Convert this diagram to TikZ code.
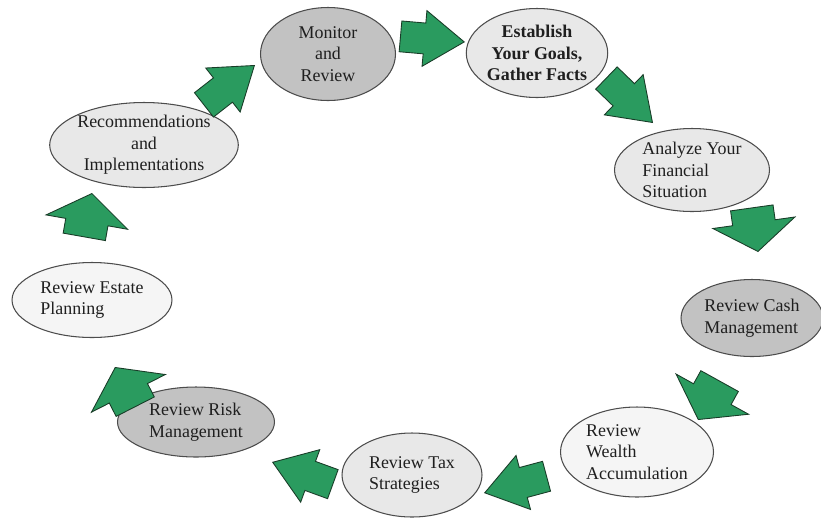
\documentclass[tikz,border=0pt]{standalone}
\usepackage{fontspec}
\setmainfont{Liberation Serif}
\usetikzlibrary{
	positioning
	,shapes.geometric
	,shapes.arrows
}
\definecolor{flowgreen}{RGB}{42,155,95}
\definecolor{flowedge}{RGB}{25,60,40}
\tikzset{
	step node/.style={
		draw=black!70,
		ellipse,
		line width=.6pt,
		inner sep=0pt,
		align=center,
		text=black!88,
		font=\fontsize{10.2}{12.3}\selectfont
	},
	dark/.style={step node, fill=black!24},
	light/.style={step node, fill=black!9},
	pale/.style={step node, fill=black!4},
	flow/.style={
		single arrow,
		draw=flowedge,
		fill=flowgreen,
		line width=.5pt,
		inner sep=0pt,
		anchor=tip,
		rotate=#1,
		text height=.3cm,
		text depth=.3cm,
		minimum height=1.28cm,
		single arrow head extend=.25cm,
		single arrow tip angle=70
	},
	wide flow/.style={
		flow=#1,
		text height=.42cm,
		text depth=.42cm,
		minimum height=.88cm,
		single arrow head extend=.4cm,
		single arrow tip angle=110
	}
}

\begin{document}
\begin{tikzpicture}[x=.02cm, y=-.02cm]
\useasboundingbox (0,0) rectangle (821,518);

% the steps
\node[dark, minimum width=2.7cm, minimum height=1.86cm](mon) at(328,54){Monitor\\and\\Review};
\node[light, minimum width=2.8cm, minimum height=1.78cm, font=\fontsize{10.2}{12.3}\selectfont\bfseries](est) at(537,53){Establish\\Your Goals,\\Gather Facts};
\node[light, align=left, minimum width=3.1cm, minimum height=1.66cm](ana) at(692,170){Analyze Your\\Financial\\Situation};
\node[dark, align=left, minimum width=2.84cm, minimum height=1.54cm](cash) at(752,318){Review Cash\\Management};
\node[pale, align=left, minimum width=3.06cm, minimum height=1.8cm](wea) at(637,452){Review\\Wealth\\Accumulation};
\node[light, align=left, minimum width=2.8cm, minimum height=1.68cm](tax) at(412,475){Review Tax\\Strategies};
\node[dark, align=left, minimum width=3.14cm, minimum height=1.4cm](risk) at(196,422){Review Risk\\Management};
\node[pale, align=left, minimum width=3.2cm, minimum height=1.5cm](estate) at(92,300){Review Estate\\Planning};
\node[light, minimum width=3.64cm, minimum height=1.7cm](rec) at(144,145){Recommendations\\and\\Implementations};

% the arrows between them, placed by their tips
\foreach \n/\x/\y/\a in {%
a1/465/42/-5, a2/653/123/-44, a5/484/493/195%
,a6/272/462/160, a9/255/65/38%
}{
	\node[flow=\a](\n) at(\x,\y){};
}
\foreach \n/\x/\y/\a in {%
a3/758/252/-82, a4/698/420/-119%
,a7/115/367/117, a8/92/193/80%
}{
	\node[wide flow=\a](\n) at(\x,\y){};
}
\end{tikzpicture}
\end{document}
